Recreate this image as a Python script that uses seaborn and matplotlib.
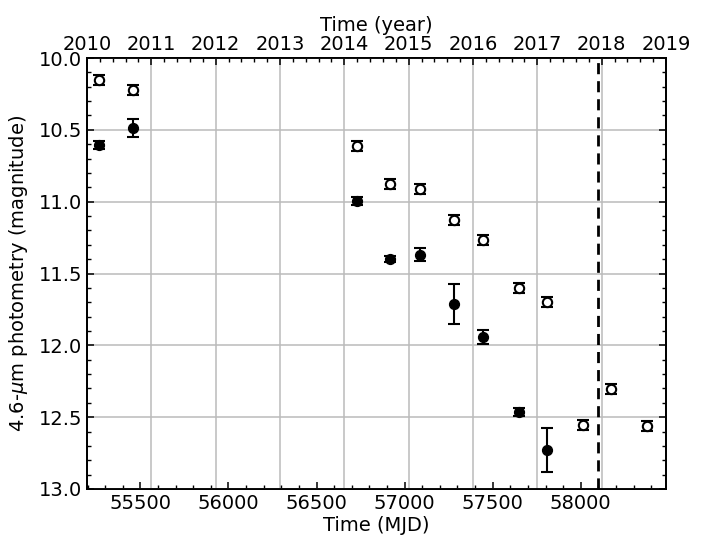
import numpy as np
import pandas as pd
import matplotlib
matplotlib.use("Agg")
import matplotlib.pyplot as plt
from matplotlib.ticker import MultipleLocator
import seaborn as sns

# ---- data ----
open_mjd = [55267, 55456, 56728, 56917, 57085, 57280, 57447, 57649, 57811, 58014, 58172, 58378]
open_mag = [10.15, 10.22, 10.61, 10.88, 10.91, 11.13, 11.27, 11.60, 11.70, 12.555, 12.305, 12.56]
open_err = [0.035, 0.035, 0.035, 0.035, 0.035, 0.035, 0.035, 0.035, 0.035, 0.035, 0.035, 0.035]

fill_mjd = [55267, 55456, 56728, 56917, 57085, 57280, 57447, 57649, 57811]
fill_mag = [10.605, 10.49, 10.995, 11.40, 11.37, 11.71, 11.94, 12.465, 12.73]
fill_err = [0.03, 0.063, 0.03, 0.02, 0.045, 0.14, 0.05, 0.03, 0.153]

event_mjd = 58100
mjd_ticks = [55500, 56000, 56500, 57000, 57500, 58000]
years = [2010, 2011, 2012, 2013, 2014, 2015, 2016, 2017, 2018, 2019]
mjd_range = (55197, 58484)
mag_range = (13.0, 10.0)

# ---- style ----
sns.set_style("ticks")
plt.rcParams["font.family"] = ["DejaVu Sans"]
plt.rcParams["font.size"] = 14
plt.rcParams["axes.linewidth"] = 1.3
for k in ["text.color", "axes.labelcolor", "xtick.color", "ytick.color", "axes.edgecolor"]:
    plt.rcParams[k] = "black"

fig = plt.figure(figsize=(7.03, 5.36), dpi=100)
ax = fig.add_axes([87/703, 1-489/536, (666-87)/703, (489-58)/536])

df_open = pd.DataFrame({"mjd": open_mjd, "mag": open_mag})
df_fill = pd.DataFrame({"mjd": fill_mjd, "mag": fill_mag})

ax.errorbar(open_mjd, open_mag, yerr=open_err, fmt="none", ecolor="black",
            elinewidth=1.5, capsize=4.5, capthick=1.5, zorder=3)
ax.errorbar(fill_mjd, fill_mag, yerr=fill_err, fmt="none", ecolor="black",
            elinewidth=1.5, capsize=4.5, capthick=1.5, zorder=3)
sns.scatterplot(data=df_open, x="mjd", y="mag", ax=ax, marker="o", s=45,
                facecolor="white", edgecolor="black", linewidth=1.5, zorder=4)
sns.scatterplot(data=df_fill, x="mjd", y="mag", ax=ax, marker="o", s=50,
                color="black", edgecolor="black", linewidth=1.0, zorder=4)

ax.axvline(event_mjd, color="black", linestyle="--", linewidth=2, dashes=(4, 2.5), zorder=5)

ax.set_xlim(*mjd_range)
ax.set_ylim(*mag_range)
ax.set_xticks(mjd_ticks)
ax.xaxis.set_minor_locator(MultipleLocator(100))
ax.yaxis.set_major_locator(MultipleLocator(0.5))
ax.yaxis.set_minor_locator(MultipleLocator(0.1))
ax.set_yticklabels([f"{v:.1f}" for v in ax.get_yticks()])
ax.grid(axis="y", color="#bbbbbb", linewidth=1.1)
ax.set_axisbelow(True)
ax.tick_params(which="both", direction="in", top=False, right=True, colors="black")
ax.tick_params(which="major", length=5, width=1.1, labelsize=14)
ax.tick_params(which="minor", length=3, width=1.0)
ax.set_xlabel("Time (MJD)", fontsize=14, labelpad=2)
ax.set_ylabel(r"4.6-$\mu$m photometry (magnitude)", fontsize=14, labelpad=6)

ax2 = ax.twiny()
ax2.set_xlim(years[0], years[-1])
ax2.set_xticks(years)
ax2.set_xticklabels([str(y) for y in years])
ax2.xaxis.set_minor_locator(MultipleLocator(0.2))
ax2.grid(axis="x", color="#bbbbbb", linewidth=1.1)
ax2.set_axisbelow(True)
ax2.tick_params(which="both", direction="in", colors="black")
ax2.tick_params(which="major", length=5, width=1.1, labelsize=14, pad=3)
ax2.tick_params(which="minor", length=3, width=1.0)
ax2.set_xlabel("Time (year)", fontsize=14, labelpad=3)
ax.set_zorder(ax2.get_zorder() + 1)
ax.patch.set_visible(False)
for s in list(ax.spines.values()) + list(ax2.spines.values()):
    s.set_linewidth(1.3)
    s.set_color("black")

fig.savefig("out.png", dpi=100)
